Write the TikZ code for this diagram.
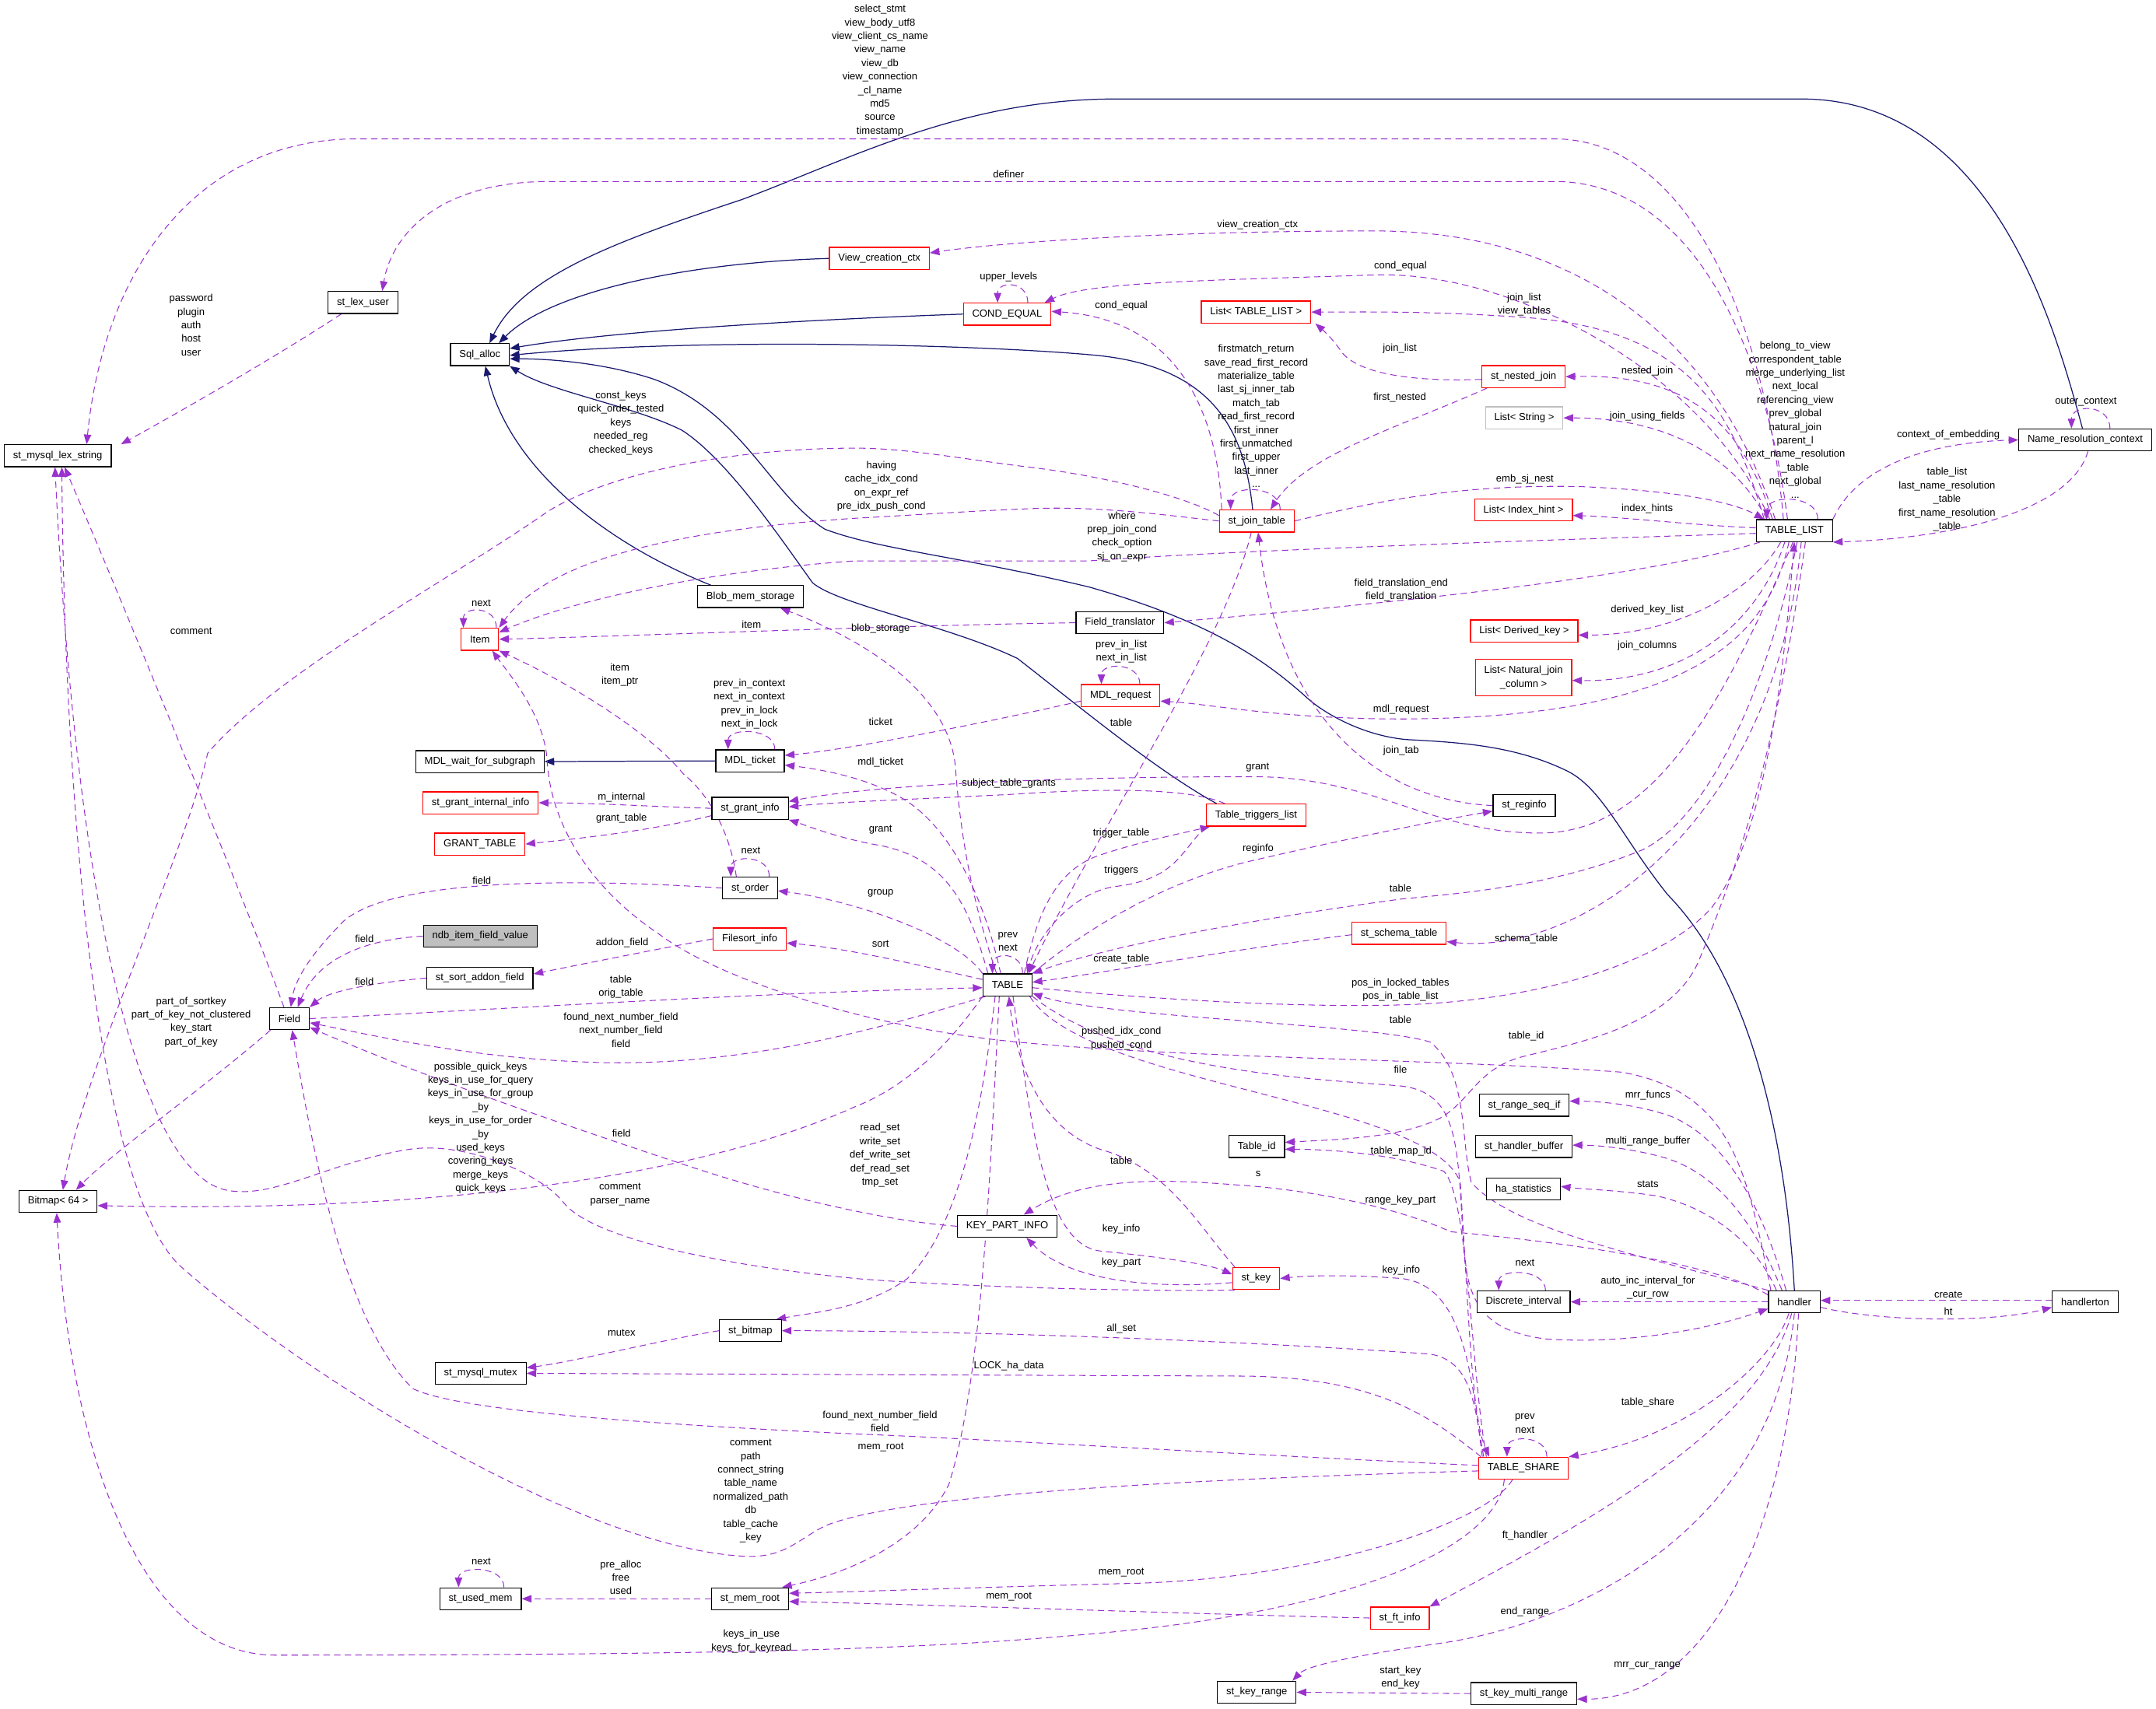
\documentclass[tikz,border=0pt]{standalone}
\usepackage{fontspec}
\setmainfont{Liberation Sans}
\usetikzlibrary{arrows.meta,calc,backgrounds}
\definecolor{usecol}{HTML}{9A32CD}
\definecolor{inhcol}{HTML}{191970}

\begin{document}
\begin{tikzpicture}[x=0.03cm, y=-0.03cm,
  font=\fontsize{6.3}{8.4}\selectfont,
  >={Triangle[length=6pt,width=4.6pt]},
  box/.style={draw=black, line width=0.6pt, fill=white, inner xsep=5.5pt, inner ysep=1pt, minimum height=0.48cm, align=center},
  redbox/.style={box, draw=red},
  greybox/.style={box, draw=gray!50},
  use/.style={->, draw=usecol, line width=0.5pt, dash pattern=on 4pt off 2.6pt},
  inh/.style={->, draw=inhcol, line width=0.6pt},
  lbl/.style={inner sep=0pt, align=center}]
        \useasboundingbox (0,0) rectangle (1568,1243);
        % Nodes (left to right, top to bottom)
        \node[box] (lexstring) at (42,331.5) {st\_mysql\_lex\_string};
        \node[box] (bitmap) at (42.25,874) {Bitmap< 64 >};
        \node[box] (field) at (210.5,741) {Field};
        \node[box] (lexuser) at (264,220) {st\_lex\_user};
        \node[box] (sqlalloc) at (349,258) {Sql\_alloc};
        \node[redbox] (item) at (349,465) {Item};
        \node[box] (mdlwait) at (349,554) {MDL\_wait\_for\_subgraph};
        \node[redbox] (grantint) at (349.5,584) {st\_grant\_internal\_info};
        \node[redbox] (granttable) at (349,614) {GRANT\_TABLE};
        \node[box, fill=gray!50] (ndbvalue) at (349.25,681) {ndb\_item\_field\_value};
        \node[box] (sortaddon) at (349,711.5) {st\_sort\_addon\_field};
        \node[box] (mutex) at (349.5,999) {st\_mysql\_mutex};
        \node[box] (usedmem) at (349.5,1163) {st\_used\_mem};
        \node[box] (blobmem) at (545.75,434) {Blob\_mem\_storage};
        \node[box] (mdlticket) at (545.5,553.5) {MDL\_ticket};
        \node[box] (grantinfo) at (545.5,588) {st\_grant\_info};
        \node[box] (order) at (545.5,646) {st\_order};
        \node[redbox] (filesort) at (545.25,683) {Filesort\_info};
        \node[box] (stbitmap) at (545.75,968) {st\_bitmap};
        \node[box] (memroot) at (545.5,1163) {st\_mem\_root};
        \node[redbox] (viewctx) at (639.5,188) {View\_creation\_ctx};
        \node[redbox] (condequal) at (732.5,228.5) {COND\_EQUAL};
        \node[box] (table) at (732.75,716.5) {TABLE};
        \node[box] (keypart) at (732.5,892) {KEY\_PART\_INFO};
        \node[box] (fieldtr) at (814.5,453) {Field\_translator};
        \node[redbox] (mdlreq) at (815,506) {MDL\_request};
        \node[redbox] (listtl) at (913.5,227) {List< TABLE\_LIST >};
        \node[redbox] (jointab) at (914,379) {st\_join\_table};
        \node[redbox] (triggers) at (913.5,593) {Table\_triggers\_list};
        \node[box] (tableid) at (914,834) {Table\_id};
        \node[redbox] (stkey) at (913.5,930) {st\_key};
        \node[box] (keyrange) at (914,1231) {st\_key\_range};
        \node[redbox] (schema) at (1017.5,679) {st\_schema\_table};
        \node[redbox] (ftinfo) at (1018,1177) {st\_ft\_info};
        \node[redbox] (nestedjoin) at (1108,274) {st\_nested\_join};
        \node[greybox] (liststring) at (1108.5,304) {List< String >};
        \node[redbox] (listindex) at (1108,371) {List< Index\_hint >};
        \node[redbox] (listderived) at (1108.5,459) {List< Derived\_key >};
        \node[redbox, minimum height=0.8cm] (listnatural) at (1108,493) {List< Natural\_join\\\_column >};
        \node[box] (reginfo) at (1108.5,586) {st\_reginfo};
        \node[box] (rangeseq) at (1108.5,804) {st\_range\_seq\_if};
        \node[box] (handlerbuf) at (1108.25,834) {st\_handler\_buffer};
        \node[box] (hastats) at (1108,865) {ha\_statistics};
        \node[box] (discrete) at (1108,947) {Discrete\_interval};
        \node[redbox] (share) at (1108,1068) {TABLE\_SHARE};
        \node[box] (keymulti) at (1108.25,1232) {st\_key\_multi\_range};
        \node[box] (tablelist) at (1305,386) {TABLE\_LIST};
        \node[box] (handler) at (1305,947) {handler};
        \node[box] (namectx) at (1516.5,320) {Name\_resolution\_context};
        \node[box] (handlerton) at (1516.5,947) {handlerton};
        % Edge labels
        \node[lbl] (lselect) at (640,51.25) {select\_stmt\\view\_body\_utf8\\view\_client\_cs\_name\\view\_name\\view\_db\\view\_connection\\\_cl\_name\\md5\\source\\timestamp};
        \node[lbl] (ldefiner) at (733.5,126.7) {definer};
        \node[lbl] (lpassword) at (139,236.5) {password\\plugin\\auth\\host\\user};
        \node[lbl] (lviewctx) at (914.6,163.5) {view\_creation\_ctx};
        \node[lbl] (lcondtl) at (1018.5,193.5) {cond\_equal};
        \node[lbl] (lupper) at (733.5,201.4) {upper\_levels};
        \node[lbl] (lcondjt) at (815.5,222.2) {cond\_equal};
        \node[lbl] (ljoinlist) at (1108.5,221.5) {join\_list\\view\_tables};
        \node[lbl] (ljoinlist2) at (1018,253.4) {join\_list};
        \node[lbl] (lnested) at (1198,269.8) {nested\_join};
        \node[lbl] (lfirstnested) at (1018,289) {first\_nested};
        \node[lbl] (lusing) at (1198,302.8) {join\_using\_fields};
        \node[lbl] (ltlself) at (1305.6,305.4) {belong\_to\_view\\correspondent\_table\\merge\_underlying\_list\\next\_local\\referencing\_view\\prev\_global\\natural\_join\\parent\_l\\next\_name\_resolution\\\_table\\next\_global\\...};
        \node[lbl] (ljtself) at (913.6,302.7) {firstmatch\_return\\save\_read\_first\_record\\materialize\_table\\last\_sj\_inner\_tab\\match\_tab\\read\_first\_record\\first\_inner\\first\_unmatched\\first\_upper\\last\_inner\\...};
        \node[lbl] (louter) at (1517,292.4) {outer\_context};
        \node[lbl] (lembedding) at (1417,316.3) {context\_of\_embedding};
        \node[lbl] (ltablelist) at (1416,363.4) {table\_list\\last\_name\_resolution\\\_table\\first\_name\_resolution\\\_table};
        \node[lbl] (lembsj) at (1109,348.5) {emb\_sj\_nest};
        \node[lbl] (lindex) at (1198,370.3) {index\_hints};
        \node[lbl] (lconstkeys) at (451.5,307.8) {const\_keys\\quick\_order\_tested\\keys\\needed\_reg\\checked\_keys};
        \node[lbl] (lhaving) at (641,353.7) {having\\cache\_idx\_cond\\on\_expr\_ref\\pre\_idx\_push\_cond};
        \node[lbl] (lwhere) at (816,390.4) {where\\prep\_join\_cond\\check\_option\\sj\_on\_expr};
        \node[lbl] (lfieldtr) at (1019,429.4) {field\_translation\_end\\field\_translation};
        \node[lbl] (lderived) at (1198,443.6) {derived\_key\_list};
        \node[lbl] (lcomment) at (139,459) {comment};
        \node[lbl] (litemnext) at (350,438.6) {next};
        \node[lbl] (litem) at (546.5,454.3) {item};
        \node[lbl] (lblob) at (640.4,457.3) {blob\_storage};
        \node[lbl] (lmdlreqself) at (815.5,474) {prev\_in\_list\\next\_in\_list};
        \node[lbl] (ljoincols) at (1198,470) {join\_columns};
        \node[lbl] (litemptr) at (450.8,490.9) {item\\item\_ptr};
        \node[lbl] (lticketself) at (545,512.2) {prev\_in\_context\\next\_in\_context\\prev\_in\_lock\\next\_in\_lock};
        \node[lbl] (lmdlreq) at (1019,516) {mdl\_request};
        \node[lbl] (lticket) at (640.4,525) {ticket};
        \node[lbl] (ltablejt) at (815.4,525.5) {table};
        \node[lbl] (ljointab) at (1019,546) {join\_tab};
        \node[lbl] (lmdlticket) at (640.4,554.4) {mdl\_ticket};
        \node[lbl] (lgranttl) at (914.6,558.4) {grant};
        \node[lbl] (lsubject) at (733.7,569.8) {subject\_table\_grants};
        \node[lbl] (lminternal) at (452,580) {m\_internal};
        \node[lbl] (lgranttable) at (452,595.5) {grant\_table};
        \node[lbl] (lgranttab) at (640.4,603.8) {grant};
        \node[lbl] (ltriggertable) at (815.5,606) {trigger\_table};
        \node[lbl] (lreginfo) at (915,617.5) {reginfo};
        \node[lbl] (lordernext) at (546,618.7) {next};
        \node[lbl] (ltriggers) at (815.5,633) {triggers};
        \node[lbl] (lorderfield) at (350.4,640.7) {field};
        \node[lbl] (ltabletl) at (1018.5,646) {table};
        \node[lbl] (lgroup) at (640.4,649.7) {group};
        \node[lbl] (ltableself) at (733,684.9) {prev\\next};
        \node[lbl] (lndbfield) at (265,683) {field};
        \node[lbl] (lschema) at (1110,683) {schema\_table};
        \node[lbl] (laddon) at (452.5,686) {addon\_field};
        \node[lbl] (lsort) at (640.4,686.5) {sort};
        \node[lbl] (lcreatetable) at (815.5,697.6) {create\_table};
        \node[lbl] (lorigtable) at (451.6,717.9) {table\\orig\_table};
        \node[lbl] (laddonfield) at (265,714) {field};
        \node[lbl] (lposin) at (1018.5,720) {pos\_in\_locked\_tables\\pos\_in\_table\_list};
        \node[lbl] (lsortkey) at (139,743.4) {part\_of\_sortkey\\part\_of\_key\_not\_clustered\\key\_start\\part\_of\_key};
        \node[lbl] (lnextnumber) at (451.6,749.3) {found\_next\_number\_field\\next\_number\_field\\field};
        \node[lbl] (ltablehandler) at (1018.5,741.8) {table};
        \node[lbl] (lpushed) at (815.5,755.6) {pushed\_idx\_cond\\pushed\_cond};
        \node[lbl] (ltableid) at (1110,754) {table\_id};
        \node[lbl] (lquickkeys) at (349.5,820.5) {possible\_quick\_keys\\keys\_in\_use\_for\_query\\keys\_in\_use\_for\_group\\\_by\\keys\_in\_use\_for\_order\\\_by\\used\_keys\\covering\_keys\\merge\_keys\\quick\_keys};
        \node[lbl] (lfile) at (1018.5,778) {file};
        \node[lbl] (lmrrfuncs) at (1198.4,796.7) {mrr\_funcs};
        \node[lbl] (lreadset) at (640,840.5) {read\_set\\write\_set\\def\_write\_set\\def\_read\_set\\tmp\_set};
        \node[lbl] (lkpfield) at (452,824.3) {field};
        \node[lbl] (lmultirange) at (1198.4,830) {multi\_range\_buffer};
        \node[lbl] (ltablemapid) at (1019,837.3) {table\_map\_id};
        \node[lbl] (ltablekey) at (815.5,844.4) {table};
        \node[lbl] (ls) at (915,853.7) {s};
        \node[lbl] (lstats) at (1198.4,861.6) {stats};
        \node[lbl] (lparser) at (451,868.9) {comment\\parser\_name};
        \node[lbl] (lrangekey) at (1018.5,873.3) {range\_key\_part};
        \node[lbl] (lkeyinfo) at (815.5,894) {key\_info};
        \node[lbl] (lkeypart) at (815.5,918.5) {key\_part};
        \node[lbl] (ldiscnext) at (1109,918.6) {next};
        \node[lbl] (lkeyinfo2) at (1019,923.9) {key\_info};
        \node[lbl] (lautoinc) at (1198.4,936.7) {auto\_inc\_interval\_for\\\_cur\_row};
        \node[lbl] (lcreate) at (1417,941.6) {create};
        \node[lbl] (lht) at (1417,954.2) {ht};
        \node[lbl] (lallset) at (815.5,966.6) {all\_set};
        \node[lbl] (lmutex) at (452,969.5) {mutex};
        \node[lbl] (llock) at (733.7,993.5) {LOCK\_ha\_data};
        \node[lbl] (ltableshare) at (1198.4,1020) {table\_share};
        \node[lbl] (lsharefield) at (640,1034) {found\_next\_number\_field\\field};
        \node[lbl] (lshareself) at (1109,1035.5) {prev\\next};
        \node[lbl] (lsharecomment) at (546,1084.6) {comment\\path\\connect\_string\\table\_name\\normalized\_path\\db\\table\_cache\\\_key};
        \node[lbl] (lmemroot) at (640.6,1053) {mem\_root};
        \node[lbl] (lfthandler) at (1109,1117.3) {ft\_handler};
        \node[lbl] (lusednext) at (350,1136) {next};
        \node[lbl] (lprealloc) at (451.5,1147.5) {pre\_alloc\\free\\used};
        \node[lbl] (lmemroot2) at (815.5,1143.8) {mem\_root};
        \node[lbl] (lmemroot3) at (733.7,1161.7) {mem\_root};
        \node[lbl] (lendrange) at (1109,1172.6) {end\_range};
        \node[lbl] (lkeysinuse) at (546.5,1194) {keys\_in\_use\\keys\_for\_keyread};
        \node[lbl] (lmrrcur) at (1198,1211.6) {mrr\_cur\_range};
        \node[lbl] (lstartkey) at (1018.5,1220.3) {start\_key\\end\_key};
        % Edges (under the boxes)
        \begin{pgfonlayer}{background}
        % inheritance
        \draw[inh] (viewctx.west) .. controls (500,191) and (400,212) .. ($(sqlalloc.north east)+(-8,0)$);
        \draw[inh] ($(namectx.north)+(-2,0)$) .. controls (1495,240) and (1450,72) .. (1310,72) -- (812,72) .. controls (700,72) and (620,115) .. (540,145) .. controls (450,175) and (380,200) .. ($(sqlalloc.north)+(7,0)$);
        \draw[inh] (condequal.west) .. controls (600,232) and (450,240) .. ($(sqlalloc.east)+(0,-4.5)$);
        \draw[inh] ($(jointab.north)+(-3,0)$) .. controls (905,310) and (880,265) .. (792,258) .. controls (700,250) and (500,246) .. ($(sqlalloc.east)+(0,0.5)$);
        \draw[inh] ($(triggers.north west)+(8,0)$) .. controls (840,560) and (780,510) .. (740,479) .. controls (690,455) and (610,440) .. (591,424) .. controls (570,395) and (530,335) .. (496,313) .. controls (460,295) and (400,285) .. (sqlalloc.south east);
        \draw[inh] (handler.north) .. controls (1300,850) and (1280,720) .. (1213,651) .. controls (1180,610) and (1165,572) .. (1138,560) .. controls (1100,542) and (1060,540) .. (1023,538) .. controls (990,535) and (962,518) .. (951,508) .. controls (920,480) and (880,452) .. (792,427) .. controls (700,405) and (640,400) .. (600,385) .. controls (560,360) and (540,300) .. (476,276) .. controls (440,264) and (400,261) .. ($(sqlalloc.east)+(0,3)$);
        \draw[inh] ($(blobmem.north west)+(10,0)$) .. controls (440,395) and (370,340) .. ($(sqlalloc.south)+(4,0)$);
        \draw[inh] (mdlticket.west) -- (mdlwait.east);
        % TABLE_LIST
        \draw[use] ($(tablelist.north)+(-8,0)$) .. controls (1285,240) and (1230,101) .. (1130,101) -- (260,101) .. controls (140,101) and (75,200) .. ($(lexstring.north)+(21,0)$);
        \draw[use] ($(tablelist.north)+(-5,0)$) .. controls (1285,260) and (1235,132) .. (1130,132) -- (400,132) .. controls (320,132) and (285,170) .. ($(lexuser.north)+(14,0)$);
        \draw[use] ($(tablelist.north)+(-14,0)$) .. controls (1250,250) and (1150,168) .. (1000,168) .. controls (850,168) and (730,176) .. ($(viewctx.east)+(0,-4)$);
        \draw[use] ($(tablelist.north)+(-18,0)$) .. controls (1240,270) and (1100,197) .. (1000,200) .. controls (880,204) and (790,205) .. ($(condequal.north east)+(-5,0)$);
        \draw[use] ($(tablelist.north)+(-22,0)$) .. controls (1260,300) and (1230,240) .. (1110,231) .. controls (1040,226) and (990,227) .. (listtl.east);
        \draw[use] ($(tablelist.north)+(-16,0)$) .. controls (1265,300) and (1220,272) .. (nestedjoin.east);
        \draw[use] ($(tablelist.north west)+(8,0)$) .. controls (1260,330) and (1210,304) .. (liststring.east);
        \draw[use] ($(tablelist.north)+(17,0)$) .. controls +(0,-18) and +(0,-18) .. ($(tablelist.north)+(-20,0)$);
        \draw[use] (tablelist.north east) .. controls (1350,340) and (1400,322) .. (namectx.west);
        \draw[use] ($(tablelist.west)+(0,-2)$) .. controls (1230,382) and (1180,376) .. ($(listindex.east)+(0,4)$);
        \draw[use] ($(tablelist.west)+(0,2)$) .. controls (1150,392) and (900,400) .. (792,408) -- (622,408) .. controls (520,415) and (420,435) .. ($(item.east)+(0,-5)$);
        \draw[use] ($(tablelist.south west)+(3,0)$) .. controls (1200,420) and (1000,440) .. (fieldtr.east);
        \draw[use] ($(tablelist.south)+(-10,0)$) .. controls (1275,430) and (1220,462) .. ($(listderived.east)+(0,3)$);
        \draw[use] ($(tablelist.south)+(-7,0)$) .. controls (1280,450) and (1230,496) .. ($(listnatural.east)+(0,2)$);
        \draw[use] ($(tablelist.south)+(-4,0)$) .. controls (1285,470) and (1220,522) .. (1020,523) .. controls (930,523) and (880,512) .. ($(mdlreq.east)+(0,4)$);
        \draw[use] ($(tablelist.south)+(-1,0)$) .. controls (1250,520) and (1200,606) .. (1120,606) .. controls (1040,606) and (1000,565) .. (911,565) .. controls (780,565) and (640,570) .. ($(grantinfo.east)+(0,-5)$);
        \draw[use] ($(tablelist.south)+(2,0)$) .. controls (1290,480) and (1250,590) .. (1195,618) .. controls (1130,645) and (1060,650) .. (1019,654) .. controls (900,670) and (800,690) .. (table.north east);
        \draw[use] ($(tablelist.south)+(5,0)$) .. controls (1290,600) and (1150,695) .. ($(schema.east)+(0,6)$);
        \draw[use] ($(tablelist.south)+(8,0)$) .. controls (1290,560) and (1260,640) .. (1235,700) .. controls (1215,745) and (1150,758) .. (1110,768) .. controls (1075,776) and (1070,800) .. (1048,813) .. controls (1020,828) and (970,829) .. ($(tableid.east)+(0,-3)$);
        % Name_resolution_context
        \draw[use] ($(namectx.south)+(2,0)$) .. controls (1505,375) and (1410,392) .. (tablelist.south east);
        \draw[use] ($(namectx.north)+(18,0)$) .. controls +(0,-18) and +(0,-18) .. ($(namectx.north)+(-10,0)$);
        \draw[use] ($(lexuser.south west)+(10,0)$) .. controls (200,260) and (130,300) .. ($(lexstring.north)+(46,0)$);
        % st_join_table
        \draw[use] ($(jointab.north west)+(2,0)$) .. controls (885,290) and (850,232) .. ($(condequal.east)+(0,-2)$);
        \draw[use] ($(condequal.north)+(15,0)$) .. controls +(0,-16) and +(0,-16) .. ($(condequal.north)+(-7,0)$);
        \draw[use] ($(nestedjoin.west)+(0,2)$) .. controls (1020,278) and (985,270) .. (975,255) .. controls (968,245) and (962,240) .. ($(listtl.south east)+(3,0)$);
        \draw[use] ($(nestedjoin.south west)+(4,0)$) .. controls (1020,310) and (950,330) .. ($(jointab.north)+(10,0)$);
        \draw[use] ($(jointab.north)+(17,0)$) .. controls +(0,-18) and +(0,-18) .. ($(jointab.north)+(-19,0)$);
        \draw[use] (jointab.east) .. controls (1000,365) and (1060,352) .. (1150,354) .. controls (1220,357) and (1260,365) .. ($(tablelist.north west)+(6,0)$);
        \draw[use] (jointab.west) .. controls (850,375) and (800,368) .. (750,370) .. controls (700,372) and (660,375) .. (622,377) .. controls (500,385) and (400,405) .. (item.north east);
        \draw[use] ($(jointab.west)+(0,-4)$) .. controls (860,360) and (800,346) .. (750,340) .. controls (700,334) and (660,326) .. (622,326) .. controls (530,326) and (440,345) .. (397,373) .. controls (330,420) and (200,490) .. (151,548) .. controls (135,620) and (60,780) .. ($(bitmap.north)+(3.5,0)$);
        \draw[use] ($(jointab.south)+(-4,0)$) .. controls (890,470) and (800,600) .. ($(table.north east)+(-3,0)$);
        \draw[use] (reginfo.west) .. controls (1000,582) and (930,520) .. ($(jointab.south)+(1,0)$);
        % Item, MDL, grants
        \draw[use] ($(item.north)+(12,0)$) .. controls +(0,-16) and +(0,-16) .. ($(item.north)+(-12,0)$);
        \draw[use] (fieldtr.west) .. controls (650,455) and (450,463) .. (item.east);
        \draw[use] ($(mdlreq.north)+(14,0)$) .. controls +(0,-16) and +(0,-16) .. ($(mdlreq.north)+(-14,0)$);
        \draw[use] ($(mdlreq.west)+(0,4)$) .. controls (720,525) and (620,545) .. ($(mdlticket.east)+(0,-4)$);
        \draw[use] ($(mdlticket.north)+(18,0)$) .. controls +(0,-16) and +(0,-16) .. ($(mdlticket.north)+(-16,0)$);
        \draw[use] ($(triggers.north west)+(14,0)$) .. controls (870,575) and (820,572) .. (733,578) .. controls (650,582) and (600,584) .. ($(grantinfo.east)+(0,-1)$);
        \draw[use] (grantinfo.west) .. controls (480,587) and (430,584) .. (grantint.east);
        \draw[use] ($(grantinfo.south west)+(0,-3)$) .. controls (470,605) and (420,610) .. (granttable.east);
        % TABLE
        \draw[use] ($(table.north)+(11,0)$) .. controls +(0,-16) and +(0,-16) .. ($(table.north)+(-11,0)$);
        \draw[use] ($(table.north)+(-8,0)$) .. controls (705,650) and (698,600) .. (695,560) .. controls (692,510) and (640,470) .. ($(blobmem.south east)+(-17,0)$);
        \draw[use] ($(table.north)+(-5,0)$) .. controls (715,650) and (690,600) .. (655,580) .. controls (630,566) and (600,560) .. ($(mdlticket.east)+(0,3)$);
        \draw[use] ($(table.north west)+(4,0)$) .. controls (705,660) and (690,625) .. (640,615) .. controls (610,610) and (585,600) .. (grantinfo.south east);
        \draw[use] (table.north west) .. controls (695,680) and (620,655) .. ($(order.east)+(0,2)$);
        \draw[use] ($(table.west)+(0,-4)$) .. controls (680,705) and (620,690) .. ($(filesort.east)+(0,3)$);
        \draw[use] ($(table.north east)+(-6,0)$) .. controls (755,660) and (770,632) .. (800,622) .. controls (830,612) and (860,606) .. ($(triggers.south west)+(3,0)$);
        \draw[use] (triggers.south west) .. controls (858,620) and (855,640) .. (810,645) .. controls (780,650) and (755,680) .. ($(table.north east)+(-4,0)$);
        \draw[use] (table.north east) .. controls (790,675) and (850,640) .. (911,626) .. controls (980,610) and (1040,598) .. ($(reginfo.west)+(0,4)$);
        \draw[use] ($(schema.west)+(0,1)$) .. controls (900,690) and (800,708) .. ($(table.east)+(0,-2)$);
        \draw[use] ($(table.east)+(0,2)$) .. controls (850,728) and (950,733) .. (1019,731) .. controls (1120,728) and (1210,700) .. (1245,660) .. controls (1290,600) and (1300,450) .. (tablelist.south);
        \draw[use] (field.east) .. controls (350,735) and (550,722) .. ($(table.west)+(0,2)$);
        \draw[use] ($(table.south west)+(2,0)$) .. controls (650,745) and (550,775) .. (440,773) .. controls (350,771) and (280,755) .. ($(field.east)+(0,3)$);
        \draw[use] (table.south west) .. controls (690,760) and (660,790) .. (622,805) .. controls (500,860) and (300,882) .. ($(bitmap.east)+(0,3)$);
        \draw[use] ($(table.south)+(-9,0)$) .. controls (715,800) and (700,890) .. (660,930) .. controls (630,952) and (590,955) .. ($(stbitmap.north east)+(-4,0)$);
        \draw[use] ($(table.south)+(-6,0)$) .. controls (720,850) and (715,1000) .. (690,1080) .. controls (665,1130) and (600,1148) .. ($(memroot.north east)+(-5,0)$);
        \draw[use] ($(table.south)+(4,0)$) .. controls (750,820) and (760,905) .. (800,910) .. controls (850,915) and (880,920) .. ($(stkey.west)+(0,-3)$);
        \draw[use] ($(stkey.north west)+(2,0)$) .. controls (870,890) and (850,850) .. (800,836) .. controls (760,822) and (740,780) .. ($(table.south)+(1,0)$);
        \draw[use] ($(stkey.west)+(0,3)$) .. controls (850,937) and (780,935) .. ($(keypart.south)+(14,0)$);
        \draw[use] ($(table.south east)+(-2,0)$) .. controls (790,790) and (1040,800) .. (1062,860) .. controls (1068,950) and (1070,1030) .. ($(share.north west)+(8,0)$);
        \draw[use] (table.south east) .. controls (820,780) and (960,785) .. (1019,790) .. controls (1060,795) and (1060,830) .. (1064,900) .. controls (1066,950) and (1080,968) .. (1124,974) .. controls (1180,978) and (1240,968) .. ($(handler.west)+(0,5)$);
        % Field, order, sort
        \draw[use] ($(order.north)+(14,0)$) .. controls +(0,-16) and +(0,-16) .. ($(order.north)+(-14,0)$);
        \draw[use] ($(order.north)+(-10,0)$) .. controls (530,600) and (512,575) .. (497,563) .. controls (470,530) and (410,495) .. (item.south east);
        \draw[use] (order.west) .. controls (450,641) and (290,635) .. (250,670) .. controls (230,690) and (215,710) .. ($(field.north)+(1,0)$);
        \draw[use] (ndbvalue.west) .. controls (270,683) and (232,695) .. ($(field.north)+(6,0)$);
        \draw[use] (sortaddon.west) .. controls (280,714) and (240,720) .. (field.north east);
        \draw[use] (filesort.west) .. controls (480,690) and (420,702) .. ($(sortaddon.east)+(0,-3)$);
        \draw[use] ($(field.south west)+(1,0)$) .. controls (150,790) and (80,840) .. ($(bitmap.north)+(13,0)$);
        \draw[use] ($(field.north)+(-4,0)$) .. controls (180,660) and (90,440) .. ($(lexstring.south)+(5,0)$);
        \draw[use] (keypart.west) .. controls (640,888) and (560,868) .. (500,848) .. controls (400,815) and (300,780) .. ($(field.south east)+(0,-2)$);
        \draw[use] ($(stkey.south west)+(2,0)$) .. controls (820,940) and (680,935) .. (622,930) .. controls (520,920) and (430,900) .. (410,875) .. controls (395,855) and (340,830) .. (298,836) .. controls (240,845) and (200,872) .. (166,866) .. controls (100,855) and (55,650) .. ($(lexstring.south)+(-2,0)$);
        % TABLE_SHARE
        \draw[use] ($(share.north)+(17,0)$) .. controls +(0,-16) and +(0,-16) .. ($(share.north)+(-12,0)$);
        \draw[use] ($(share.north west)+(6,0)$) .. controls (1070,1000) and (1068,870) .. (1050,852) .. controls (1010,838) and (960,836) .. ($(tableid.east)+(0,2)$);
        \draw[use] ($(share.north west)+(3,0)$) .. controls (1070,1000) and (1065,935) .. (1019,930) .. controls (980,927) and (950,928) .. (stkey.east);
        \draw[use] ($(share.north west)+(4,0)$) .. controls (1072,1020) and (1070,990) .. (1040,985) .. controls (900,975) and (700,968) .. (stbitmap.east);
        \draw[use] ($(share.north west)+(2,0)$) .. controls (1040,1030) and (1000,1001) .. (900,1001) -- (mutex.east);
        \draw[use] ($(share.west)+(0,-2)$) .. controls (900,1058) and (700,1046) .. (620,1043) .. controls (450,1035) and (330,1025) .. (300,1010) .. controls (250,960) and (228,840) .. ($(field.south)+(2,0)$);
        \draw[use] ($(share.west)+(0,2)$) .. controls (900,1075) and (660,1085) .. (600,1110) .. controls (580,1120) and (570,1134) .. (540,1132) .. controls (420,1125) and (220,1000) .. (130,920) .. controls (60,850) and (46,500) .. ($(lexstring.south)+(3,0)$);
        \draw[use] ($(share.south)+(-8,0)$) .. controls (1080,1110) and (950,1150) .. (815,1152) .. controls (700,1155) and (620,1158) .. ($(memroot.east)+(0,-4)$);
        \draw[use] ($(share.south)+(-14,0)$) .. controls (1090,1120) and (1000,1170) .. (800,1188) .. controls (700,1197) and (600,1204) .. (200,1204) .. controls (100,1204) and (50,1050) .. ($(bitmap.south)+(-1,0)$);
        \draw[use] (ftinfo.west) .. controls (900,1175) and (700,1168) .. ($(memroot.east)+(0,2)$);
        \draw[use] (memroot.west) -- (usedmem.east);
        \draw[use] ($(usedmem.north)+(17,0)$) .. controls +(0,-16) and +(0,-16) .. ($(usedmem.north)+(-16,0)$);
        \draw[use] (stbitmap.west) .. controls (480,975) and (420,990) .. ($(mutex.east)+(0,-4)$);
        % handler
        \draw[use] ($(handler.north west)+(2,0)$) .. controls (1270,850) and (1260,795) .. (1180,780) .. controls (1050,770) and (850,770) .. (730,757) .. controls (620,745) and (520,710) .. (480,680) .. controls (420,640) and (400,590) .. (398,554) .. controls (396,520) and (370,490) .. ($(item.south)+(9,0)$);
        \draw[use] (handler.north west) .. controls (1200,915) and (1100,895) .. (1070,860) .. controls (1062,830) and (1068,780) .. (1040,758) .. controls (1000,745) and (800,740) .. ($(table.east)+(0,6)$);
        \draw[use] ($(handler.west)+(0,-5)$) .. controls (1250,920) and (1150,905) .. (1055,896) .. controls (1020,880) and (960,866) .. (900,862) .. controls (850,858) and (790,855) .. ($(keypart.north)+(12,0)$);
        \draw[use] ($(handler.north)+(-6,0)$) .. controls (1285,890) and (1260,830) .. (1215,812) .. controls (1190,803) and (1160,801) .. ($(rangeseq.east)+(0,-3)$);
        \draw[use] ($(handler.north)+(-9,0)$) .. controls (1280,900) and (1255,855) .. (1210,842) .. controls (1185,835) and (1160,833) .. ($(handlerbuf.east)+(0,-1)$);
        \draw[use] ($(handler.north west)+(6,0)$) .. controls (1280,910) and (1250,880) .. (1205,870) .. controls (1180,866) and (1150,865) .. ($(hastats.east)+(0,-2)$);
        \draw[use] (handler.west) -- (discrete.east);
        \draw[use] ($(discrete.north)+(16,0)$) .. controls +(0,-16) and +(0,-16) .. ($(discrete.north)+(-18,0)$);
        \draw[use] ($(handlerton.west)+(0,-1)$) -- ($(handler.east)+(0,-1)$);
        \draw[use] ($(handler.east)+(0,4)$) .. controls (1370,962) and (1450,962) .. ($(handlerton.west)+(0,4)$);
        \draw[use] ($(handler.south)+(-4,0)$) .. controls (1290,990) and (1230,1045) .. (share.north east);
        \draw[use] ($(handler.south)+(-2,0)$) .. controls (1280,1040) and (1150,1110) .. (ftinfo.north east);
        \draw[use] (handler.south) .. controls (1290,1110) and (1150,1180) .. (1050,1195) .. controls (980,1205) and (950,1212) .. ($(keyrange.north east)+(-3,0)$);
        \draw[use] ($(handler.south)+(3,0)$) .. controls (1300,1120) and (1240,1236) .. ($(keymulti.east)+(0,4)$);
        \draw[use] (keymulti.west) -- (keyrange.east);
        \end{pgfonlayer}
      \end{tikzpicture}
\end{document}
